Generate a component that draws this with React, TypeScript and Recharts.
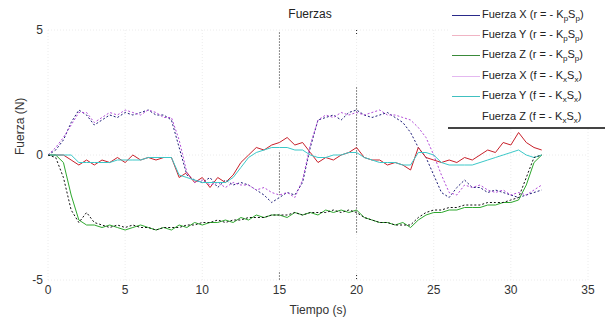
import { LineChart, Line, XAxis, YAxis, CartesianGrid, ReferenceLine } from 'recharts';

// tiempo (s), muestreo cada 0.5 s
const TIME = [
  0, 0.5, 1, 1.5, 2, 2.5, 3, 3.5, 4, 4.5, 5, 5.5, 6, 6.5, 7, 7.5, 8, 8.5, 9, 9.5,
  10, 10.5, 11, 11.5, 12, 12.5, 13, 13.5, 14, 14.5, 15, 15.5, 16, 16.5, 17, 17.5, 18, 18.5, 19, 19.5,
  20, 20.5, 21, 21.5, 22, 22.5, 23, 23.5, 24, 24.5, 25, 25.5, 26, 26.5, 27, 27.5, 28, 28.5, 29, 29.5,
  30, 30.5, 31, 31.5, 32,
];

const FX_R = [
  0, 0.2, 0.6, 1.3, 1.8, 1.6, 1.2, 1.4, 1.6, 1.5, 1.7, 1.6, 1.7, 1.8, 1.6, 1.6, 1.4, 0.3, -0.8, -1.0,
  -1.1, -0.9, -1.3, -1.0, -1.2, -1.1, -1.2, -1.4, -1.6, -1.9, -1.7, -1.5, -1.6, -1.1, 0.3, 1.4, 1.5, 1.6, 1.4, 1.7,
  1.8, 1.6, 1.5, 1.6, 1.7, 1.5, 1.3, 0.9, 0.3, -0.1, -0.8, -1.5, -1.7, -1.3, -1.0, -1.3, -1.3, -1.5, -1.4, -1.5,
  -1.6, -1.7, -1.6, -1.5, -1.4,
];

const FY_R = [
  0, 0, 0, -0.2, -0.4, -0.2, -0.4, -0.2, -0.3, -0.1, -0.3, 0.0, -0.2, -0.1, -0.2, -0.1, -0.1, -0.9, -0.7, -1.1,
  -0.9, -1.3, -0.9, -1.1, -0.8, -0.3, 0.0, 0.3, 0.2, 0.4, 0.5, 0.7, 0.4, 0.5, 0.1, -0.3, -0.1, -0.2, 0.0, 0.1,
  0.3, -0.1, -0.2, -0.2, -0.4, -0.3, -0.4, -0.6, 0.3, -0.1, -0.2, -0.3, -0.2, -0.3, -0.1, -0.2, 0.0, 0.2, 0.1, 0.5,
  0.4, 0.9, 0.5, 0.3, 0.2,
];

const FZ_R = [
  0, 0, -0.3, -1.6, -2.6, -2.8, -2.8, -2.9, -2.8, -2.9, -3.0, -2.9, -2.8, -2.9, -3.0, -2.9, -3.0, -2.8, -2.9, -2.7,
  -2.8, -2.7, -2.7, -2.6, -2.7, -2.5, -2.6, -2.4, -2.5, -2.4, -2.4, -2.5, -2.3, -2.4, -2.3, -2.4, -2.2, -2.3, -2.2, -2.3,
  -2.2, -2.5, -2.6, -2.7, -2.7, -2.8, -2.7, -2.9, -2.6, -2.4, -2.3, -2.3, -2.2, -2.2, -2.1, -2.1, -2.1, -2.0, -2.0, -1.9,
  -1.9, -1.8, -1.2, -0.3, 0.0,
];

const FX_F = [
  0, 0.3, 0.7, 1.2, 1.7, 1.7, 1.3, 1.5, 1.7, 1.6, 1.8, 1.7, 1.6, 1.8, 1.7, 1.5, 1.5, 0.6, -0.7, -1.1,
  -1.0, -1.2, -1.1, -1.3, -1.1, -1.2, -1.2, -1.4, -1.3, -1.5, -1.6, -1.5, -1.7, -1.0, 0.4, 1.4, 1.6, 1.5, 1.7, 1.6,
  1.7, 1.6, 1.7, 1.8, 1.6, 1.6, 1.5, 1.4, 1.1, 0.7, 0.0, -0.8, -1.5, -1.6, -1.2, -1.3, -1.2, -1.4, -1.5, -1.4,
  -1.6, -1.5, -1.6, -1.4, -1.2,
];

const FY_F = [
  0, 0, 0, 0, -0.3, -0.3, -0.3, -0.3, -0.3, -0.2, -0.2, -0.2, -0.2, -0.1, -0.1, -0.1, -0.1, -0.8, -0.9, -1.0,
  -1.1, -1.1, -1.1, -1.1, -0.9, -0.5, -0.1, 0.1, 0.2, 0.3, 0.3, 0.3, 0.2, 0.2, 0.0, -0.1, -0.1, 0.0, 0.0, 0.1,
  0.1, -0.1, -0.2, -0.3, -0.3, -0.3, -0.4, -0.4, 0.1, 0.1, 0.0, -0.3, -0.4, -0.4, -0.4, -0.4, -0.3, -0.2, -0.1, 0.0,
  0.1, 0.2, 0.0, -0.1, 0.0,
];

const FZ_F = [
  0, -0.1, -0.9, -2.2, -2.7, -2.3, -2.7, -2.8, -2.9, -2.8, -2.9, -2.8, -2.9, -2.9, -3.0, -2.9, -2.9, -2.9, -2.8, -2.8,
  -2.7, -2.7, -2.6, -2.7, -2.6, -2.6, -2.5, -2.5, -2.5, -2.4, -2.4, -2.4, -2.3, -2.4, -2.3, -2.3, -2.3, -2.2, -2.3, -2.2,
  -2.3, -2.5, -2.6, -2.7, -2.7, -2.8, -2.8, -2.8, -2.5, -2.3, -2.2, -2.2, -2.1, -2.1, -2.0, -2.0, -2.0, -1.9, -1.9, -1.9,
  -1.8, -1.7, -0.9, -0.1, 0.0,
];

const X_TICKS = [0, 5, 10, 15, 20, 25, 30, 35];
const Y_TICKS = [-5, 0, 5];

const SERIES = [
  { key: 'fxr', axis: 'X', src: 'r', k: 'p', color: '#1c1c78', legend: '#2a2a8a', dash: '2 2' },
  { key: 'fyr', axis: 'Y', src: 'r', k: 'p', color: '#c8202a', legend: '#f0b4c4', dash: undefined },
  { key: 'fzr', axis: 'Z', src: 'r', k: 'p', color: '#2ea82e', legend: '#3a8a3a', dash: undefined },
  { key: 'fxf', axis: 'X', src: 'f', k: 'x', color: '#b24ad8', legend: '#e4b8f0', dash: '2 2' },
  { key: 'fyf', axis: 'Y', src: 'f', k: 'x', color: '#3cc8c8', legend: '#40c0c0', dash: undefined },
  { key: 'fzf', axis: 'Z', src: 'f', k: 'x', color: '#111111', legend: '#ffffff', dash: '2 2' },
];

const data = TIME.map((t, i) => ({
  t,
  fxr: FX_R[i],
  fyr: FY_R[i],
  fzr: FZ_R[i],
  fxf: FX_F[i],
  fyf: FY_F[i],
  fzf: FZ_F[i],
}));

const font = '"Liberation Sans", Arial, sans-serif';

// segmentos punteados visibles en t = 15 y t = 20
const MARKS: [number, number, number][] = [
  [15, 4.9, 2.7],
  [15, 0.1, -1.6],
  [15, -4.7, -5],
  [20, 5, 4.8],
  [20, 2.7, -3.1],
  [20, -4.8, -5],
];

function ForceLegend() {
  return (
    <div
      style={{
        position: 'absolute',
        left: 448,
        top: 0,
        width: 157,
        height: 129,
        background: '#fff',
        borderBottom: '2px solid #444',
        fontFamily: font,
        fontSize: 11,
        color: '#222',
        paddingTop: 5,
        boxSizing: 'border-box',
      }}
    >
      {SERIES.map(s => (
        <div key={s.key} style={{ display: 'flex', alignItems: 'center', height: 20.4, whiteSpace: 'nowrap' }}>
          <span style={{ display: 'inline-block', width: 28, marginLeft: 4, borderTop: `1px solid ${s.legend}` }} />
          <span style={{ marginLeft: 2 }}>
            Fuerza {s.axis} ({s.src} = - K<sub style={{ fontSize: 8 }}>{s.k}</sub>S<sub style={{ fontSize: 8 }}>{s.k}</sub>)
          </span>
        </div>
      ))}
    </div>
  );
}

export default function App() {
  return (
    <div style={{ position: 'absolute', left: 0, top: 0, width: 605, height: 327, background: '#fff', overflow: 'hidden' }}>
      <div
        style={{
          position: 'absolute',
          left: 0,
          width: 620,
          top: 7,
          textAlign: 'center',
          fontFamily: font,
          fontSize: 12,
          color: '#222',
        }}
      >
        Fuerzas
      </div>
      <LineChart width={605} height={327} data={data} margin={{ top: 30, right: 17, bottom: 17, left: 18 }}>
        <CartesianGrid stroke="#ececec" strokeDasharray="1 2" />
        <XAxis
          dataKey="t"
          type="number"
          domain={[0, 35]}
          ticks={X_TICKS}
          axisLine={false}
          tickLine={false}
          tickSize={0}
          tickMargin={5}
          height={30}
          tick={{ fontSize: 12, fill: '#333', fontFamily: font }}
          label={{ value: 'Tiempo (s)', position: 'insideBottom', offset: -4, fontSize: 12, fill: '#333', fontFamily: font }}
        />
        <YAxis
          type="number"
          domain={[-5, 5]}
          ticks={Y_TICKS}
          axisLine={false}
          tickLine={false}
          tickSize={0}
          tickMargin={5}
          width={30}
          tick={{ fontSize: 12, fill: '#333', fontFamily: font }}
          label={{ value: 'Fuerza (N)', angle: -90, position: 'insideLeft', offset: 2, fontSize: 12, fill: '#333', fontFamily: font }}
        />
        {MARKS.map(([x, y1, y2], i) => (
          <ReferenceLine
            key={i}
            segment={[{ x, y: y1 }, { x, y: y2 }]}
            stroke="#222"
            strokeWidth={1}
            strokeDasharray="1 2"
          />
        ))}
        {SERIES.map(s => (
          <Line
            key={s.key}
            dataKey={s.key}
            type="linear"
            stroke={s.color}
            strokeWidth={1}
            strokeDasharray={s.dash}
            dot={false}
            isAnimationActive={false}
          />
        ))}
      </LineChart>
      <ForceLegend />
    </div>
  );
}
